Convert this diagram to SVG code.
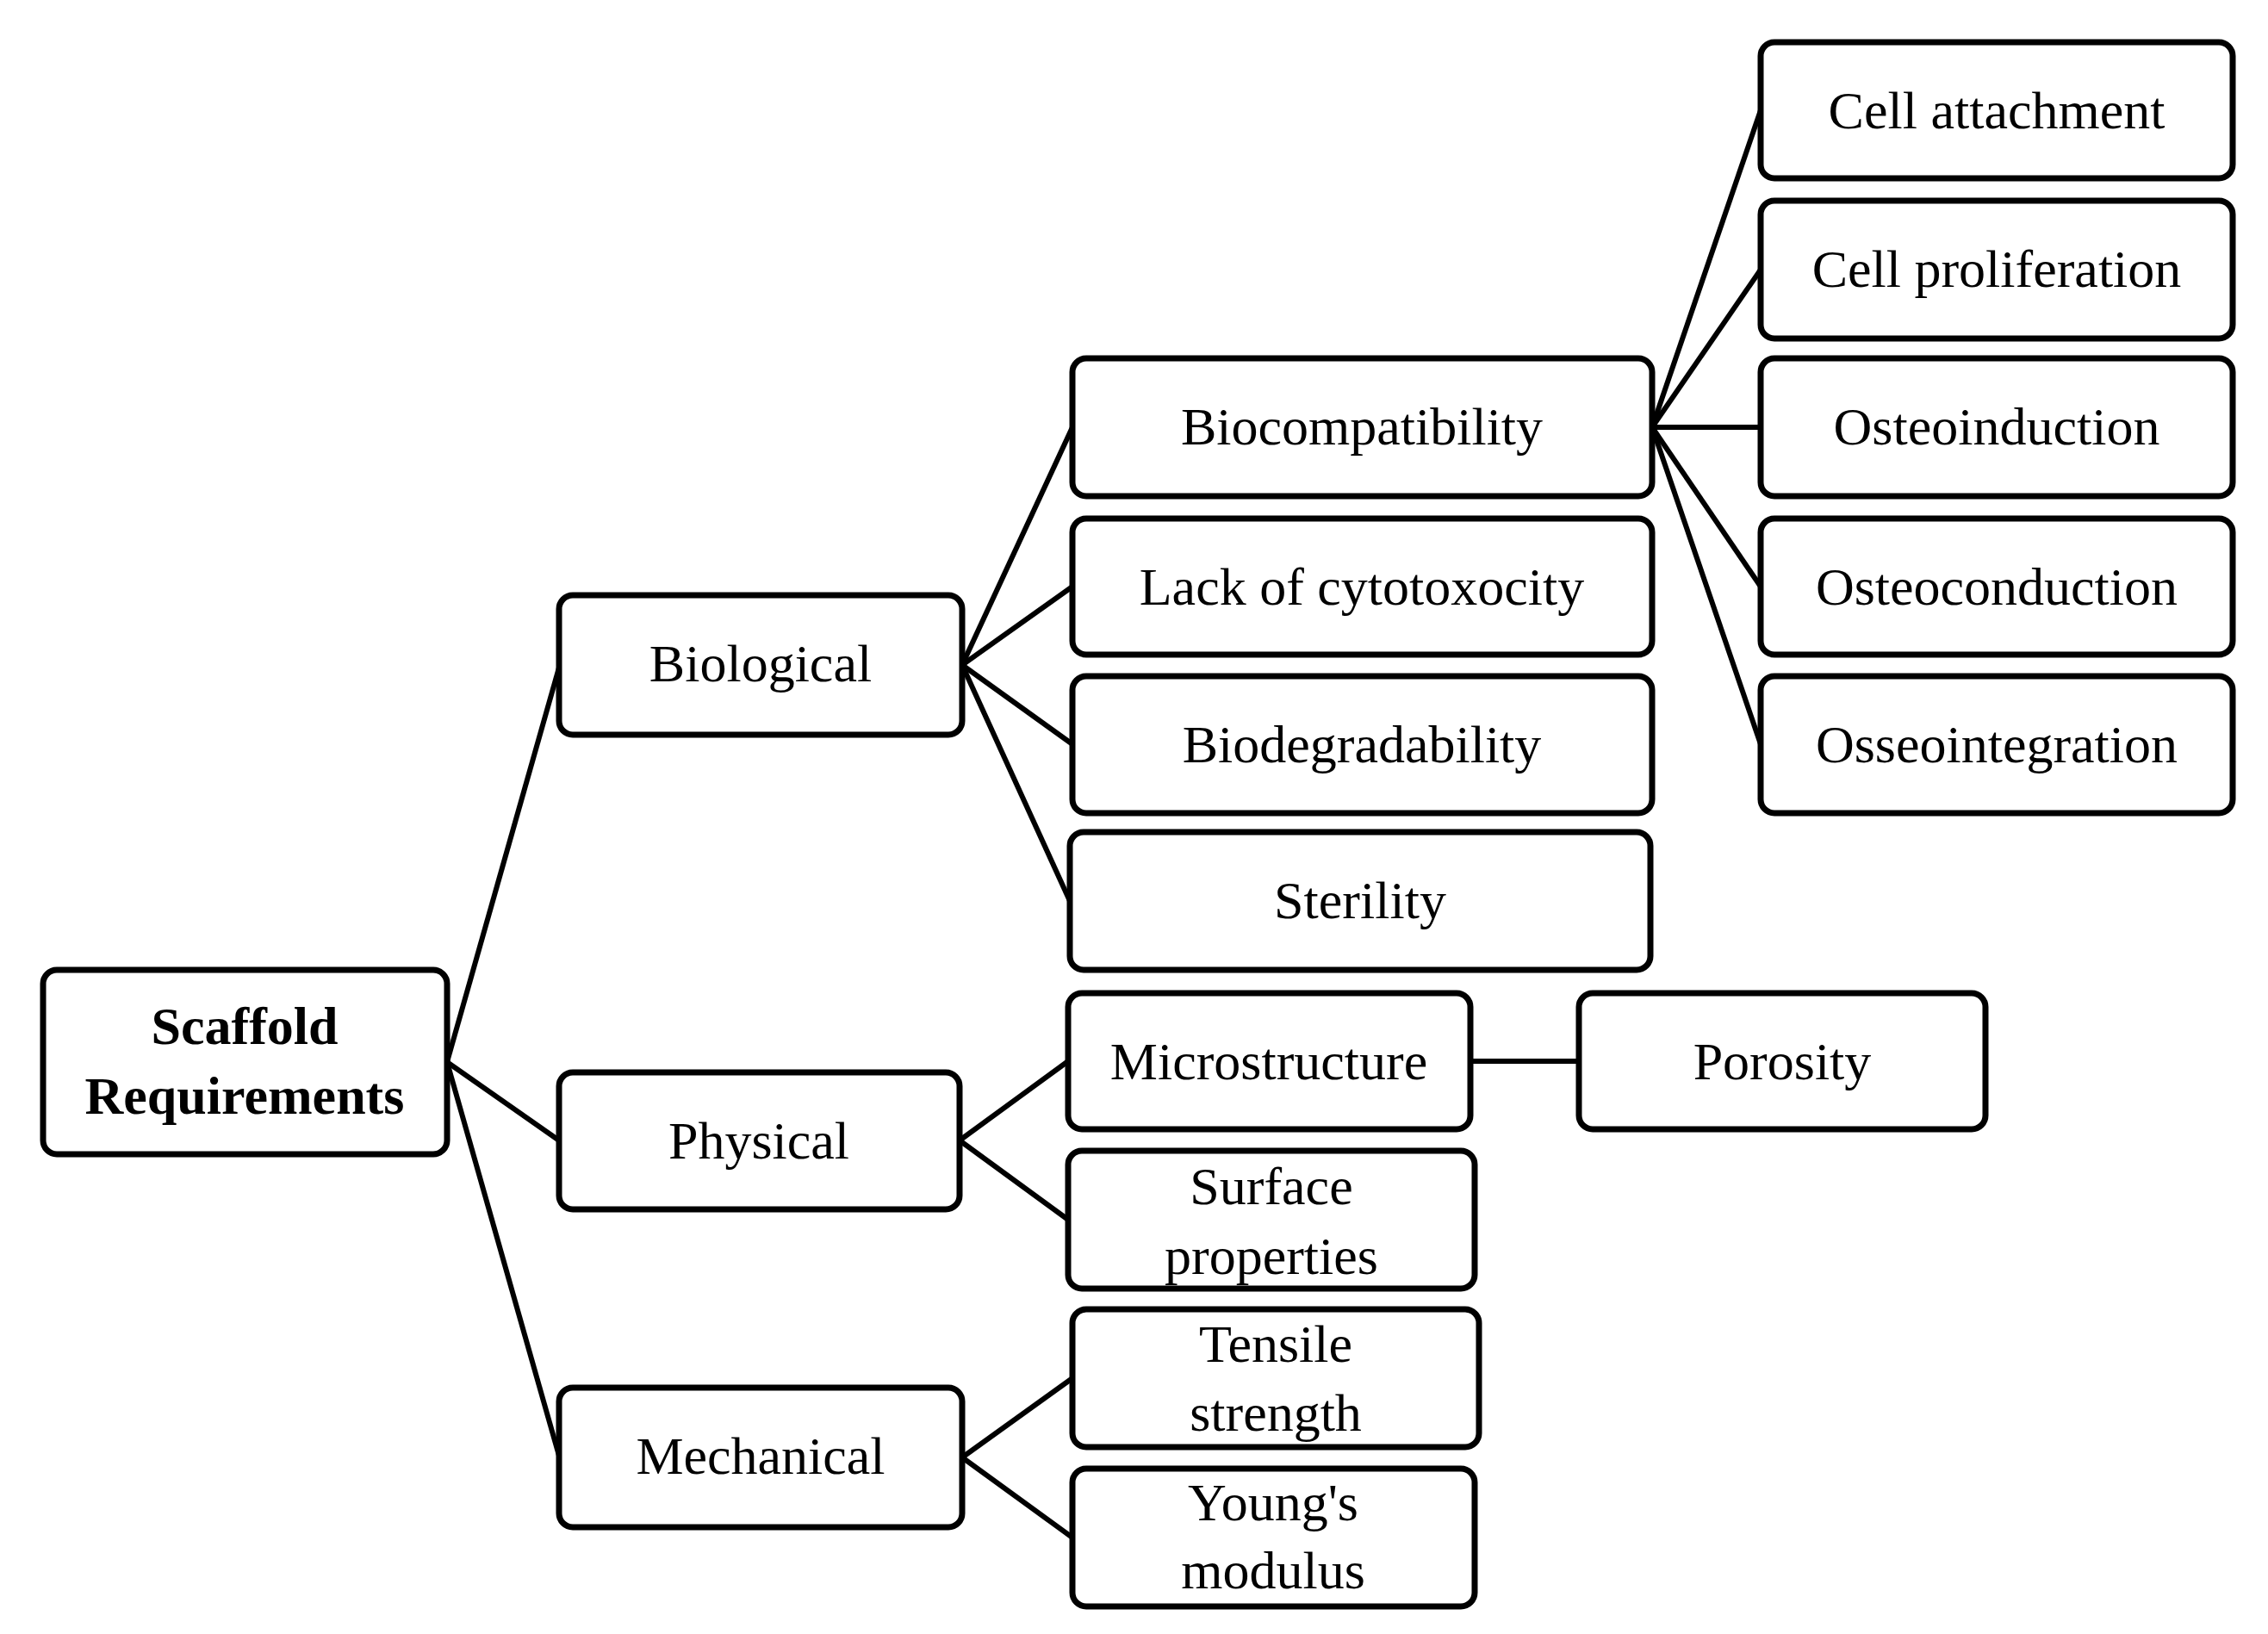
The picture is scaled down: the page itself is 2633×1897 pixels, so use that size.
<svg xmlns="http://www.w3.org/2000/svg" width="2633" height="1897" viewBox="0 0 2633 1897">
<style>
rect{fill:#fff;stroke:#000;stroke-width:7}
text{font-family:"Liberation Serif",serif;font-size:62px;text-anchor:middle;fill:#000}
.b{font-weight:bold}
#connectors line{stroke:#000;stroke-width:6}
</style>
<rect x="0" y="0" width="2633" height="1897" style="stroke:none"/>
<g id="connectors">
<line x1="519" y1="1233" x2="649" y2="775"/>
<line x1="519" y1="1233" x2="649" y2="1324"/>
<line x1="519" y1="1233" x2="649" y2="1690"/>
<line x1="1117" y1="772" x2="1245" y2="496"/>
<line x1="1117" y1="772" x2="1245" y2="681"/>
<line x1="1117" y1="772" x2="1245" y2="864"/>
<line x1="1117" y1="772" x2="1242" y2="1046"/>
<line x1="1918" y1="496" x2="2044" y2="128"/>
<line x1="1918" y1="496" x2="2044" y2="313"/>
<line x1="1918" y1="496" x2="2044" y2="496"/>
<line x1="1918" y1="496" x2="2044" y2="681"/>
<line x1="1918" y1="496" x2="2044" y2="864"/>
<line x1="1114" y1="1324" x2="1240" y2="1232"/>
<line x1="1114" y1="1324" x2="1240" y2="1416"/>
<line x1="1707" y1="1232" x2="1833" y2="1232"/>
<line x1="1117" y1="1692" x2="1245" y2="1600"/>
<line x1="1117" y1="1692" x2="1245" y2="1785"/>
</g>
<g id="scaffold"><rect x="50" y="1126" width="469" height="214" rx="16"/><text class="b" x="284" y="1212">Scaffold</text><text class="b" x="284" y="1293">Requirements</text></g>
<g id="biological"><rect x="649" y="691" width="468" height="162" rx="16"/><text x="883" y="791">Biological</text></g>
<g id="physical"><rect x="649" y="1245" width="465" height="159" rx="16"/><text x="881" y="1345">Physical</text></g>
<g id="mechanical"><rect x="649" y="1611" width="468" height="162" rx="16"/><text x="883" y="1711">Mechanical</text></g>
<g id="biocompatibility"><rect x="1245" y="416" width="673" height="160" rx="16"/><text x="1581" y="516">Biocompatibility</text></g>
<g id="cytotoxicity"><rect x="1245" y="602" width="673" height="158" rx="16"/><text x="1581" y="702">Lack of cytotoxocity</text></g>
<g id="biodegradability"><rect x="1245" y="785" width="673" height="159" rx="16"/><text x="1581" y="885">Biodegradability</text></g>
<g id="sterility"><rect x="1242" y="966" width="674" height="160" rx="16"/><text x="1579" y="1066">Sterility</text></g>
<g id="microstructure"><rect x="1240" y="1153" width="467" height="158" rx="16"/><text x="1473" y="1253">Microstructure</text></g>
<g id="surface"><rect x="1240" y="1336" width="472" height="160" rx="16"/><text x="1476" y="1398">Surface</text><text x="1476" y="1479">properties</text></g>
<g id="tensile"><rect x="1245" y="1520" width="472" height="160" rx="16"/><text x="1481" y="1581">Tensile</text><text x="1481" y="1661">strength</text></g>
<g id="youngs"><rect x="1245" y="1705" width="467" height="160" rx="16"/><text x="1478" y="1765">Young's</text><text x="1478" y="1844">modulus</text></g>
<g id="porosity"><rect x="1833" y="1153" width="472" height="158" rx="16"/><text x="2069" y="1253">Porosity</text></g>
<g id="attachment"><rect x="2044" y="49" width="548" height="158" rx="16"/><text x="2318" y="149">Cell attachment</text></g>
<g id="proliferation"><rect x="2044" y="233" width="548" height="160" rx="16"/><text x="2318" y="333">Cell proliferation</text></g>
<g id="osteoinduction"><rect x="2044" y="416" width="548" height="160" rx="16"/><text x="2318" y="516">Osteoinduction</text></g>
<g id="osteoconduction"><rect x="2044" y="602" width="548" height="158" rx="16"/><text x="2318" y="702">Osteoconduction</text></g>
<g id="osseointegration"><rect x="2044" y="785" width="548" height="159" rx="16"/><text x="2318" y="885">Osseointegration</text></g>
</svg>
